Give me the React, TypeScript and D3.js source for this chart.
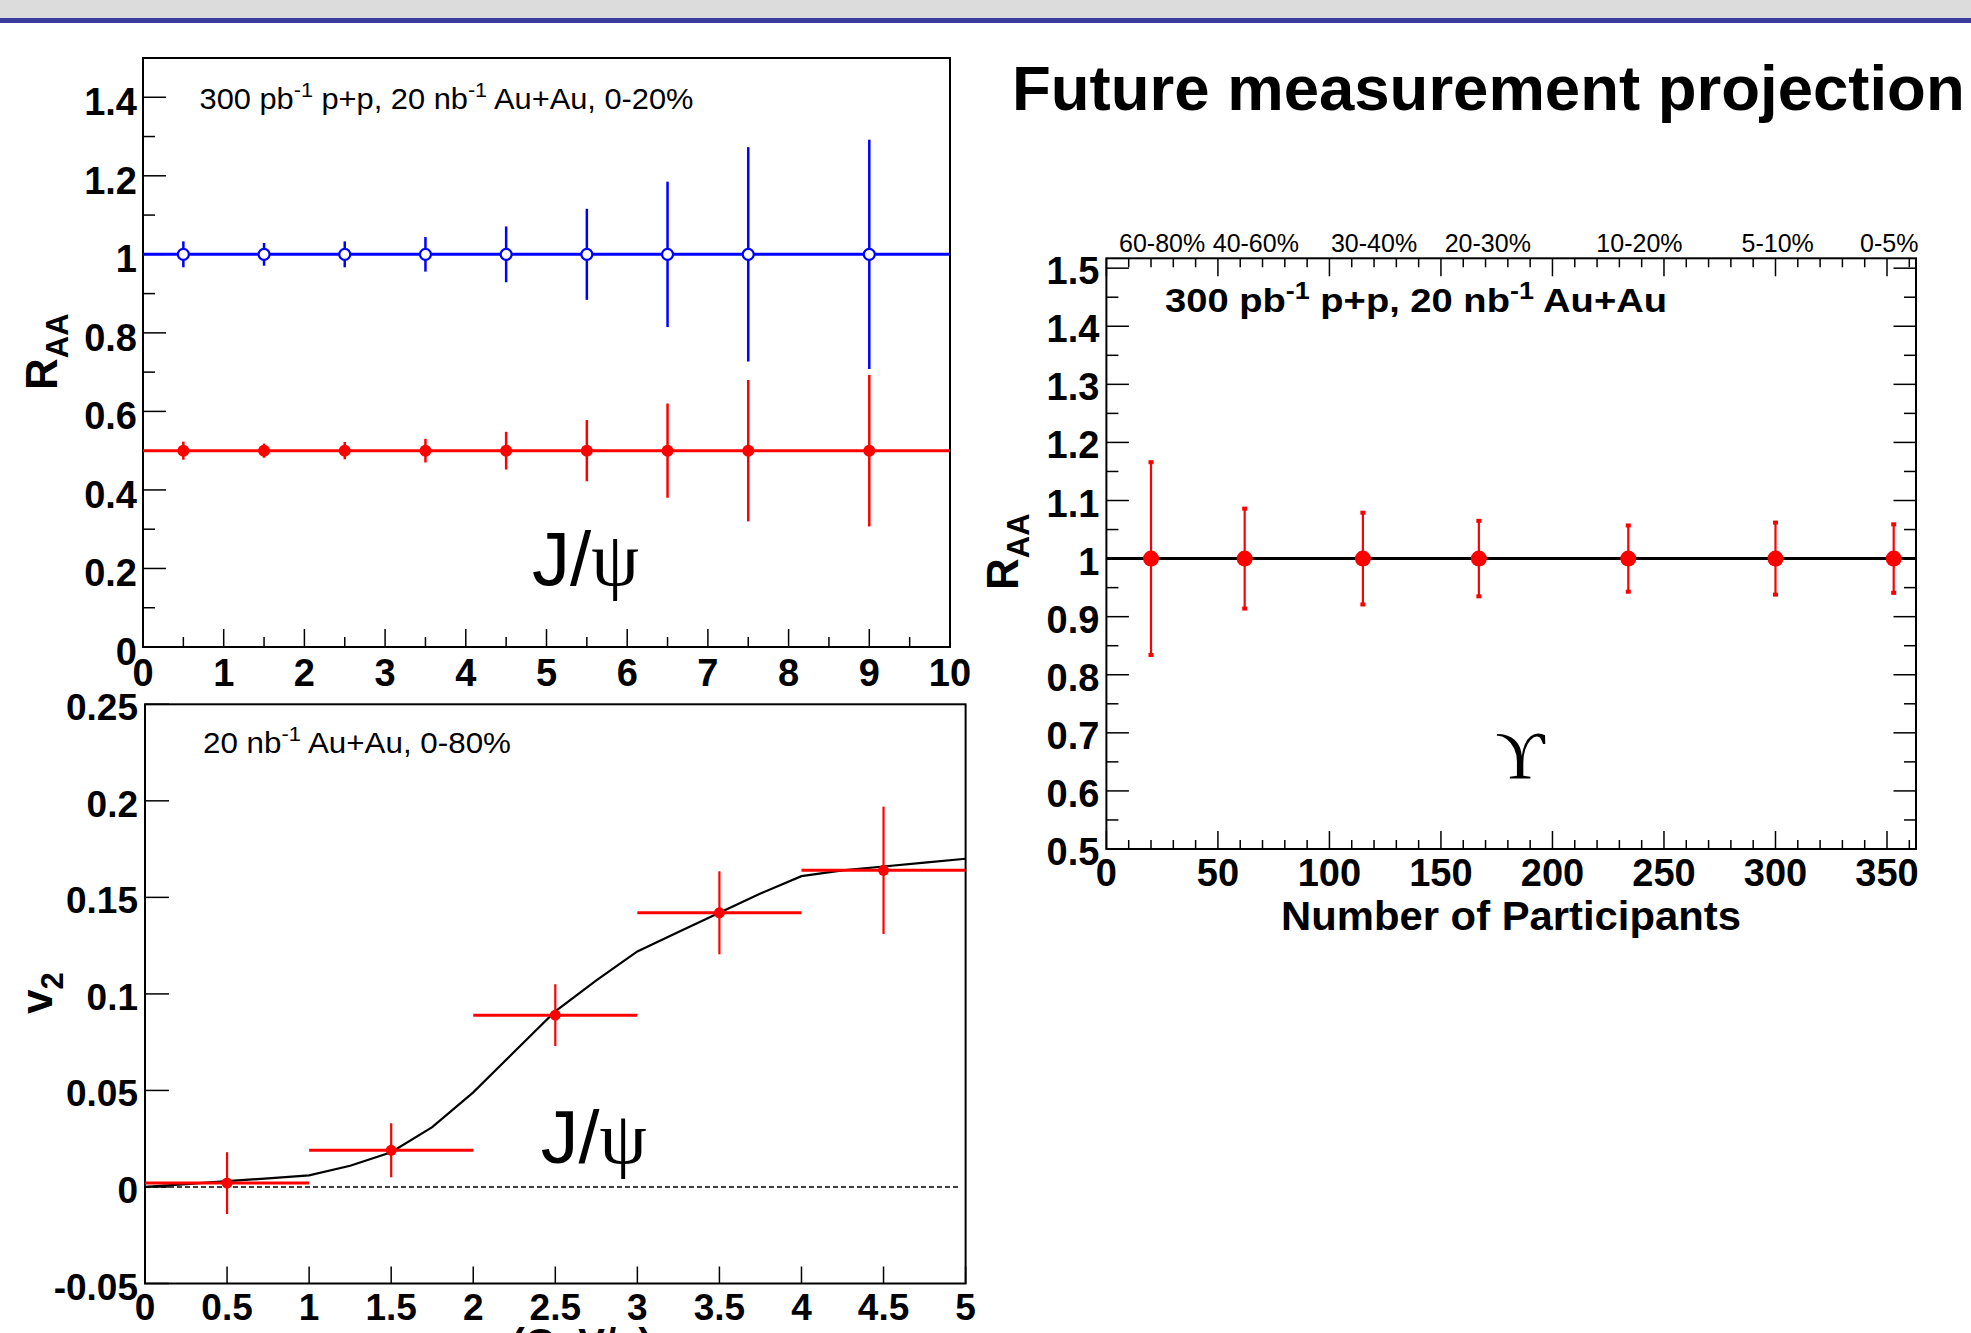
import React from 'react';
import * as d3 from 'd3';

const W = 1971;
const H = 1333;
const SANS = "'Liberation Sans', Arial, Helvetica, sans-serif";
const SERIF = "'Liberation Serif', 'DejaVu Serif', 'Times New Roman', serif";

// ---------- Panel A: J/psi R_AA vs pT ----------
const raaPt = [0.5, 1.5, 2.5, 3.5, 4.5, 5.5, 6.5, 7.5, 9];
const raaBlue = [1, 1, 1, 1, 1, 1, 1, 1, 1];
const raaBlueErr = [0.033, 0.029, 0.033, 0.044, 0.071, 0.116, 0.185, 0.273, 0.292];
const raaRed = [0.5, 0.5, 0.5, 0.5, 0.5, 0.5, 0.5, 0.5, 0.5];
const raaRedErr = [0.023, 0.018, 0.022, 0.03, 0.048, 0.078, 0.12, 0.18, 0.193];
const raaBlueLevel = 1;
const raaRedLevel = 0.5;
const aXMajor = [0, 1, 2, 3, 4, 5, 6, 7, 8, 9, 10];
const aXMinor = [0.5, 1.5, 2.5, 3.5, 4.5, 5.5, 6.5, 7.5, 8.5, 9.5];
const aYMajor = [0, 0.2, 0.4, 0.6, 0.8, 1, 1.2, 1.4];
const aYMinor = [0.1, 0.3, 0.5, 0.7, 0.9, 1.1, 1.3, 1.5];

// ---------- Panel B: J/psi v2 vs pT ----------
const v2Pt = [0.5, 1.5, 2.5, 3.5, 4.5];
const v2PtErr = [0.5, 0.5, 0.5, 0.5, 0.5];
const v2Val = [0.002, 0.019, 0.089, 0.142, 0.164];
const v2Err = [0.016, 0.014, 0.016, 0.0215, 0.033];
const modelPt = [0, 0.25, 0.5, 0.75, 1.0, 1.25, 1.5, 1.75, 2.0, 2.25, 2.5, 2.75, 3.0, 3.25, 3.5, 3.75, 4.0, 4.25, 4.5, 4.75, 5.0];
const modelV2 = [0.0, 0.0015, 0.003, 0.0045, 0.006, 0.011, 0.018, 0.031, 0.049, 0.07, 0.091, 0.107, 0.122, 0.132, 0.142, 0.152, 0.161, 0.164, 0.166, 0.168, 0.17];
const bXMajor = [0, 0.5, 1, 1.5, 2, 2.5, 3, 3.5, 4, 4.5, 5];
const bYMajor = [-0.05, 0, 0.05, 0.1, 0.15, 0.2, 0.25];

// ---------- Panel C: Upsilon R_AA vs Npart ----------
const nPart = [20, 62, 115, 167, 234, 300, 353];
const upsRaa = [1, 1, 1, 1, 1, 1, 1];
const upsErr = [0.166, 0.086, 0.079, 0.065, 0.057, 0.062, 0.059];
const upsLevel = 1;
const centralityLabels = ['60-80%', '40-60%', '30-40%', '20-30%', '10-20%', '5-10%', '0-5%'];
const centralityLabelPos = [25, 67, 120, 171, 239, 301, 351];
const cXMajor = [0, 50, 100, 150, 200, 250, 300, 350];
const cYMajor = [0.5, 0.6, 0.7, 0.8, 0.9, 1, 1.1, 1.2, 1.3, 1.4, 1.5];

const fmt = (v: number) => String(Math.round(v * 1000) / 1000);

export default function App() {
  React.useEffect(() => {
    document.body.style.margin = '0';
    document.body.style.overflow = 'hidden';
  }, []);

  // scales
  const xA = d3.scaleLinear().domain([0, 10]).range([143, 950]);
  const yA = d3.scaleLinear().domain([0, 1.5]).range([647, 58]);
  const xB = d3.scaleLinear().domain([0, 5]).range([145, 965.6]);
  const yB = d3.scaleLinear().domain([-0.05, 0.25]).range([1283.5, 704.3]);
  const xC = d3.scaleLinear().domain([0, 363]).range([1106.4, 1916]);
  const yC = d3.scaleLinear().domain([0.5, 1.517]).range([849, 258.3]);

  const cXMinor = d3.range(0, 361, 10).filter((v) => v % 50 !== 0);
  const cYMinor = d3.range(0.55, 1.52, 0.1);

  const modelLine = d3
    .line<number>()
    .x((_, i) => xB(modelPt[i]))
    .y((d) => yB(d))(modelV2) as string;

  const tickFont = { fontFamily: SANS, fontWeight: 700 as const, fill: '#000' };

  return (
    <svg
      width={W}
      height={H}
      viewBox={`0 0 ${W} ${H}`}
      style={{ display: 'block', position: 'absolute', left: 0, top: 0, background: '#fff' }}
    >
      <rect x={0} y={0} width={W} height={H} fill="#fff" />
      {/* header band */}
      <rect x={0} y={0} width={W} height={18} fill="#dcdcdc" />
      <rect x={0} y={18} width={W} height={5} fill="#3c3c9c" />

      {/* title */}
      <text x={1012} y={110} fontFamily={SANS} fontWeight={700} fontSize={63.5} fill="#000">
        Future measurement projection
      </text>

      {/* ================= Panel A ================= */}
      <g>
        <rect
          x={xA(0)}
          y={yA(1.5)}
          width={xA(10) - xA(0)}
          height={yA(0) - yA(1.5)}
          fill="#fff"
          stroke="#000"
          strokeWidth={2}
        />
        {/* y ticks */}
        {aYMajor.map((v) => (
          <line key={'aym' + v} x1={xA(0)} x2={xA(0) + 23} y1={yA(v)} y2={yA(v)} stroke="#000" strokeWidth={1.5} />
        ))}
        {aYMinor.map((v) => (
          <line key={'ayn' + v} x1={xA(0)} x2={xA(0) + 12} y1={yA(v)} y2={yA(v)} stroke="#000" strokeWidth={1.5} />
        ))}
        {/* x ticks */}
        {aXMajor.map((v) => (
          <line key={'axm' + v} x1={xA(v)} x2={xA(v)} y1={yA(0)} y2={yA(0) - 18} stroke="#000" strokeWidth={1.5} />
        ))}
        {aXMinor.map((v) => (
          <line key={'axn' + v} x1={xA(v)} x2={xA(v)} y1={yA(0)} y2={yA(0) - 10} stroke="#000" strokeWidth={1.5} />
        ))}
        {/* tick labels */}
        {aYMajor.map((v) => (
          <text key={'ayl' + v} x={xA(0) - 6} y={yA(v) + 18} textAnchor="end" fontSize={38} {...tickFont}>
            {fmt(v)}
          </text>
        ))}
        {aXMajor.map((v) => (
          <text key={'axl' + v} x={xA(v)} y={686} textAnchor="middle" fontSize={38} {...tickFont}>
            {fmt(v)}
          </text>
        ))}
        {/* level lines */}
        <line x1={xA(0)} x2={xA(10)} y1={yA(raaBlueLevel)} y2={yA(raaBlueLevel)} stroke="#0000ff" strokeWidth={3} />
        <line x1={xA(0)} x2={xA(10)} y1={yA(raaRedLevel)} y2={yA(raaRedLevel)} stroke="#ff0000" strokeWidth={3} />
        {/* blue points */}
        {raaPt.map((p, i) => (
          <g key={'ab' + i}>
            <line
              x1={xA(p)}
              x2={xA(p)}
              y1={yA(raaBlue[i] - raaBlueErr[i])}
              y2={yA(raaBlue[i] + raaBlueErr[i])}
              stroke="#0000ff"
              strokeWidth={2.5}
            />
            <circle cx={xA(p)} cy={yA(raaBlue[i])} r={5.5} fill="#fff" stroke="#0000ff" strokeWidth={2.2} />
          </g>
        ))}
        {/* red points */}
        {raaPt.map((p, i) => (
          <g key={'ar' + i}>
            <line
              x1={xA(p)}
              x2={xA(p)}
              y1={yA(raaRed[i] - raaRedErr[i])}
              y2={yA(raaRed[i] + raaRedErr[i])}
              stroke="#ff0000"
              strokeWidth={2.5}
            />
            <circle cx={xA(p)} cy={yA(raaRed[i])} r={6} fill="#ff0000" />
          </g>
        ))}
        {/* annotation */}
        <text x={199.5} y={109.3} fontFamily={SANS} fontSize={30} fill="#000" textLength={494} lengthAdjust="spacingAndGlyphs">
          300 pb
          <tspan dy={-12} fontSize={21}>-1</tspan>
          <tspan dy={12}> p+p, 20 nb</tspan>
          <tspan dy={-12} fontSize={21}>-1</tspan>
          <tspan dy={12}> Au+Au, 0-20%</tspan>
        </text>
        <text x={532} y={585} fontFamily={SANS} fontSize={76} fill="#000" textLength={107} lengthAdjust="spacingAndGlyphs">
          J/<tspan fontFamily={SERIF}>ψ</tspan>
        </text>
        {/* y title */}
        <text transform="translate(57,390) rotate(-90)" fontFamily={SANS} fontWeight={700} fontSize={44} fill="#000">
          R<tspan dy={11} fontSize={31}>AA</tspan>
        </text>
      </g>

      {/* ================= Panel B ================= */}
      <g>
        <rect
          x={xB(0)}
          y={yB(0.25)}
          width={xB(5) - xB(0)}
          height={yB(-0.05) - yB(0.25)}
          fill="#fff"
          stroke="#000"
          strokeWidth={2}
        />
        {bYMajor.map((v) => (
          <line key={'bym' + v} x1={xB(0)} x2={xB(0) + 24} y1={yB(v)} y2={yB(v)} stroke="#000" strokeWidth={1.5} />
        ))}
        {bXMajor.map((v) => (
          <line key={'bxm' + v} x1={xB(v)} x2={xB(v)} y1={yB(-0.05)} y2={yB(-0.05) - 17} stroke="#000" strokeWidth={1.5} />
        ))}
        {bYMajor.map((v) => (
          <text key={'byl' + v} x={xB(0) - 7} y={yB(v) + 16} textAnchor="end" fontSize={37} {...tickFont}>
            {fmt(v)}
          </text>
        ))}
        {bXMajor.map((v) => (
          <text key={'bxl' + v} x={xB(v)} y={1320} textAnchor="middle" fontSize={37} {...tickFont}>
            {fmt(v)}
          </text>
        ))}
        {/* zero dashed line */}
        <line x1={xB(0)} x2={xB(4.96)} y1={yB(0)} y2={yB(0)} stroke="#000" strokeWidth={1.5} strokeDasharray="5,3" />
        {/* model curve */}
        <path d={modelLine} fill="none" stroke="#000" strokeWidth={2.2} />
        {/* data */}
        {v2Pt.map((p, i) => (
          <g key={'bp' + i}>
            <line
              x1={xB(p - v2PtErr[i])}
              x2={xB(Math.min(5, p + v2PtErr[i]))}
              y1={yB(v2Val[i])}
              y2={yB(v2Val[i])}
              stroke="#ff0000"
              strokeWidth={3}
            />
            <line
              x1={xB(p)}
              x2={xB(p)}
              y1={yB(v2Val[i] - v2Err[i])}
              y2={yB(v2Val[i] + v2Err[i])}
              stroke="#ff0000"
              strokeWidth={2.2}
            />
            <circle cx={xB(p)} cy={yB(v2Val[i])} r={5.5} fill="#ff0000" />
          </g>
        ))}
        <text x={540.7} y={1163} fontFamily={SANS} fontSize={74} fill="#000" textLength={106} lengthAdjust="spacingAndGlyphs">
          J/<tspan fontFamily={SERIF}>ψ</tspan>
        </text>
        <text x={203} y={752.7} fontFamily={SANS} fontSize={30} fill="#000" textLength={308} lengthAdjust="spacingAndGlyphs">
          20 nb
          <tspan dy={-12} fontSize={21}>-1</tspan>
          <tspan dy={12}> Au+Au, 0-80%</tspan>
        </text>
        {/* y title */}
        <text transform="translate(52,1014) rotate(-90)" fontFamily={SANS} fontWeight={700} fontSize={44} fill="#000">
          v<tspan dy={11} fontSize={31}>2</tspan>
        </text>
        {/* x title (cut by page bottom) */}
        <text x={(xB(0) + xB(5)) / 2} y={1357} textAnchor="middle" fontFamily={SANS} fontWeight={700} fontSize={40} fill="#000">
          p<tspan dy={9} fontSize={28}>T</tspan>
          <tspan dy={-9}> (GeV/c)</tspan>
        </text>
      </g>

      {/* ================= Panel C ================= */}
      <g>
        <rect
          x={xC(0)}
          y={yC(1.517)}
          width={xC(363) - xC(0)}
          height={yC(0.5) - yC(1.517)}
          fill="#fff"
          stroke="#000"
          strokeWidth={2}
        />
        {/* y ticks left and right */}
        {cYMajor.map((v) => (
          <g key={'cym' + v}>
            <line x1={xC(0)} x2={xC(0) + 22.5} y1={yC(v)} y2={yC(v)} stroke="#000" strokeWidth={1.5} />
            <line x1={xC(363)} x2={xC(363) - 22.5} y1={yC(v)} y2={yC(v)} stroke="#000" strokeWidth={1.5} />
          </g>
        ))}
        {cYMinor.map((v) => (
          <g key={'cyn' + v}>
            <line x1={xC(0)} x2={xC(0) + 12} y1={yC(v)} y2={yC(v)} stroke="#000" strokeWidth={1.5} />
            <line x1={xC(363)} x2={xC(363) - 12} y1={yC(v)} y2={yC(v)} stroke="#000" strokeWidth={1.5} />
          </g>
        ))}
        {/* x ticks bottom and top */}
        {cXMajor.map((v) => (
          <g key={'cxm' + v}>
            <line x1={xC(v)} x2={xC(v)} y1={yC(0.5)} y2={yC(0.5) - 18} stroke="#000" strokeWidth={1.5} />
            <line x1={xC(v)} x2={xC(v)} y1={yC(1.517)} y2={yC(1.517) + 18} stroke="#000" strokeWidth={1.5} />
          </g>
        ))}
        {cXMinor.map((v) => (
          <g key={'cxn' + v}>
            <line x1={xC(v)} x2={xC(v)} y1={yC(0.5)} y2={yC(0.5) - 9} stroke="#000" strokeWidth={1.5} />
            <line x1={xC(v)} x2={xC(v)} y1={yC(1.517)} y2={yC(1.517) + 9} stroke="#000" strokeWidth={1.5} />
          </g>
        ))}
        {cYMajor.map((v) => (
          <text key={'cyl' + v} x={xC(0) - 7} y={yC(v) + 16} textAnchor="end" fontSize={38} {...tickFont}>
            {fmt(v)}
          </text>
        ))}
        {cXMajor.map((v) => (
          <text key={'cxl' + v} x={xC(v)} y={886} textAnchor="middle" fontSize={38} {...tickFont}>
            {fmt(v)}
          </text>
        ))}
        {/* centrality labels on top */}
        {centralityLabels.map((lab, i) => (
          <text key={'cl' + i} x={xC(centralityLabelPos[i])} y={251.5} textAnchor="middle" fontFamily={SANS} fontSize={25} fill="#000">
            {lab}
          </text>
        ))}
        {/* level line */}
        <line x1={xC(0)} x2={xC(363)} y1={yC(upsLevel)} y2={yC(upsLevel)} stroke="#000" strokeWidth={3} />
        {/* points */}
        {nPart.map((n, i) => (
          <g key={'cp' + i}>
            <line
              x1={xC(n)}
              x2={xC(n)}
              y1={yC(upsRaa[i] - upsErr[i])}
              y2={yC(upsRaa[i] + upsErr[i])}
              stroke="#ff0000"
              strokeWidth={2.2}
            />
            <rect x={xC(n) - 2.5} y={yC(upsRaa[i] + upsErr[i]) - 2} width={5} height={4} fill="#ff0000" />
            <rect x={xC(n) - 2.5} y={yC(upsRaa[i] - upsErr[i]) - 2} width={5} height={4} fill="#ff0000" />
            <circle cx={xC(n)} cy={yC(upsRaa[i])} r={8} fill="#ff0000" />
          </g>
        ))}
        <text x={1165} y={311.7} fontFamily={SANS} fontWeight={700} fontSize={34} fill="#000" textLength={502} lengthAdjust="spacingAndGlyphs">
          300 pb
          <tspan dy={-13} fontSize={24}>-1</tspan>
          <tspan dy={13}> p+p, 20 nb</tspan>
          <tspan dy={-13} fontSize={24}>-1</tspan>
          <tspan dy={13}> Au+Au</tspan>
        </text>
        <text x={1520} y={778} textAnchor="middle" fontFamily={SERIF} fontSize={68} fill="#000">
          ϒ
        </text>
        {/* titles */}
        <text x={1511} y={930} textAnchor="middle" fontFamily={SANS} fontWeight={700} fontSize={40} fill="#000" textLength={460} lengthAdjust="spacingAndGlyphs">
          Number of Participants
        </text>
        <text transform="translate(1018,590) rotate(-90)" fontFamily={SANS} fontWeight={700} fontSize={44} fill="#000">
          R<tspan dy={11} fontSize={31}>AA</tspan>
        </text>
      </g>
    </svg>
  );
}
